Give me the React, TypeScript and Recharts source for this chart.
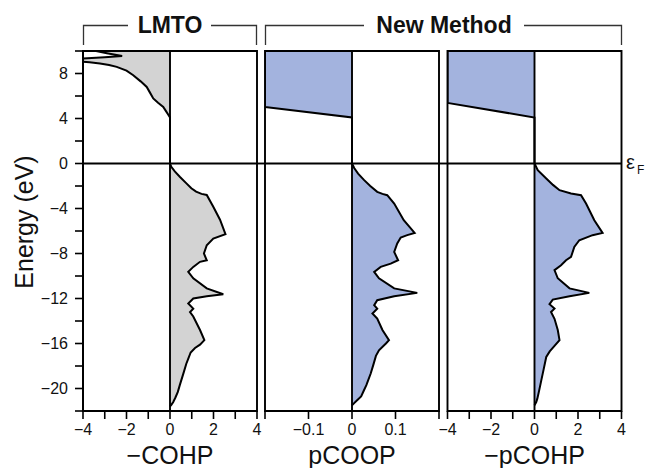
import React from 'react';
import { ComposedChart, Area, XAxis, YAxis, ReferenceLine, ReferenceArea, Label } from 'recharts';

const FONT = '"Liberation Sans", Arial, Helvetica, sans-serif';

// ---- data ----
const lmtoEnergy = [10, 9.8, 9.55, 9.45, 9.34, 9.25, 9.15, 9.1, 9.0, 8.89, 8.75, 8.59, 8.25, 7.85, 7.3, 6.8, 6.3, 5.78, 5.4, 5.03, 4.7, 4.4, 4.1,
  0, -0.3, -0.7, -1.2, -1.7, -2.2, -2.5, -2.7, -2.8, -3.85, -5.0, -6.28, -6.67, -7.26, -8.0, -8.6, -8.74, -9.19, -9.63, -10.2, -11.1, -11.62,
  -11.8, -12.0, -12.44, -12.9, -13.2, -13.6, -14.8, -15.7, -16.1, -16.4, -16.8, -17.3, -17.8, -18.7, -19.7, -20.3, -20.8, -21.2, -21.45, -21.6];
const lmtoCohp = [-3.4, -2.9, -2.2, -3.0, -4.0, -4.6, -4.4, -4.3, -3.7, -3.22, -2.8, -2.45, -2.0, -1.69, -1.35, -1.07, -0.92, -0.77, -0.55, -0.31, -0.2, -0.1, 0,
  0, 0.06, 0.22, 0.46, 0.72, 0.98, 1.2, 1.45, 1.69, 1.99, 2.3, 2.55, 1.99, 1.69, 1.56, 1.69, 1.38, 1.07, 0.84, 1.07, 1.69, 2.45,
  1.69, 1.07, 0.84, 1.07, 0.92, 1.07, 1.38, 1.58, 1.38, 1.15, 0.95, 0.85, 0.75, 0.61, 0.45, 0.36, 0.25, 0.15, 0.06, 0];

const pcoopEnergy = [10, 5.03, 4.09,
  0, -0.4, -0.9, -1.48, -2.0, -2.52, -2.7, -2.82, -3.56, -5.04, -6.17, -6.37, -6.58, -7.11, -7.86, -8.6, -8.9, -9.19, -9.63, -10.2,
  -11.1, -11.5, -11.8, -12.15, -12.6, -12.9, -13.33, -13.78, -14.8, -15.7, -16.0, -16.6, -17.1, -17.9, -18.67, -19.7, -20.2, -20.7, -21.0, -21.3, -21.5];
const pcoopValue = [-0.2, -0.2, 0,
  0, 0.005, 0.014, 0.028, 0.042, 0.058, 0.07, 0.081, 0.097, 0.119, 0.144, 0.127, 0.112, 0.104, 0.097, 0.106, 0.089, 0.066, 0.051, 0.062,
  0.097, 0.15, 0.097, 0.058, 0.051, 0.058, 0.047, 0.058, 0.07, 0.085, 0.078, 0.062, 0.055, 0.049, 0.043, 0.033, 0.027, 0.021, 0.013, 0.005, 0];

const pcohpEnergy = [10, 5.39, 4.09,
  0, -0.6, -1.33, -1.9, -2.37, -2.67, -2.82, -3.56, -5.04, -6.17, -6.37, -6.82, -7.41, -8.3, -8.6, -9.04, -9.48, -10.2,
  -11.1, -11.5, -11.8, -12.1, -12.5, -12.9, -13.2, -13.8, -14.8, -15.7, -16.15, -16.7, -17.2, -18.3, -19.3, -20.3, -20.9, -21.2, -21.5];
const pcohpValue = [-4, -4, 0,
  0, 0.15, 0.54, 0.85, 1.15, 1.68, 2.14, 2.37, 2.75, 3.13, 2.67, 2.06, 1.83, 1.68, 1.45, 1.22, 0.92, 1.07,
  1.61, 2.52, 1.61, 0.84, 0.69, 0.92, 0.76, 0.92, 1.07, 1.15, 0.95, 0.7, 0.54, 0.42, 0.31, 0.2, 0.13, 0.08, 0];

const energyTicks = [-22, -20, -18, -16, -14, -12, -10, -8, -6, -4, -2, 0, 2, 4, 6, 8, 10];
const cohpTicks = [-4, -3, -2, -1, 0, 1, 2, 3, 4];
const coopTicks = [-0.2, -0.1, 0, 0.1, 0.2];
const headerLabels = ['LMTO', 'New Method'];
const axisTitles = ['\u2212COHP', 'pCOOP', '\u2212pCOHP'];
const yTitle = 'Energy (eV)';

const toRows = (es: number[], vs: number[]) => es.map((e, i) => ({ e, v: vs[i] }));
const lmtoData = toRows(lmtoEnergy, lmtoCohp);
const pcoopData = toRows(pcoopEnergy, pcoopValue);
const pcohpData = toRows(pcohpEnergy, pcohpValue);

const fmt = (v: number) => (v < 0 ? '\u2212' + String(Math.abs(v)) : String(v));

type PanelProps = {
  left: number; width: number; mLeft: number; mRight: number; data: any[]; fill: string;
  xDomain: [number, number]; xTicks: number[]; showLabel: (v: number) => boolean; title: string; showY: boolean;
};

const LW = 1.9;

function Panel(p: PanelProps) {
  const tickStyle = { fill: '#111', fontSize: 16, fontFamily: FONT };
  return (
    <div style={{ position: 'absolute', left: p.left, top: 0 }}>
      <ComposedChart width={p.width} height={468} layout="vertical" data={p.data}
        margin={{ top: 51, right: p.mRight, bottom: 0, left: p.mLeft }}>
        <XAxis type="number" domain={p.xDomain} ticks={p.xTicks} interval={0} allowDataOverflow
          height={57} tickSize={8} tickMargin={5}
          axisLine={{ stroke: '#000', strokeWidth: LW }} tickLine={{ stroke: '#000', strokeWidth: 1.6 }}
          tick={tickStyle} tickFormatter={(v: number) => (p.showLabel(v) ? fmt(v) : '')}>
          <Label value={p.title} position="insideBottom" offset={4}
            style={{ fontSize: 25, fontFamily: FONT, fill: '#111' }} />
        </XAxis>
        <YAxis type="number" dataKey="e" domain={[-22, 10]} ticks={energyTicks} interval={0} reversed
          allowDataOverflow hide={!p.showY} width={p.showY ? 83 : 0} tickSize={8} tickMargin={7}
          axisLine={{ stroke: '#000', strokeWidth: LW }} tickLine={{ stroke: '#000', strokeWidth: 1.6 }}
          tick={tickStyle} tickFormatter={(v: number) => (v % 4 === 0 ? fmt(v) : '')}>
          {p.showY ? (
            <Label value={yTitle} angle={-90} position="center" dx={-17} dy={-9}
              style={{ fontSize: 25, fontFamily: FONT, fill: '#111', textAnchor: 'middle' }} />
          ) : null}
        </YAxis>
        <Area type="linear" dataKey="v" baseValue={0} fill={p.fill} fillOpacity={1} stroke="#000"
          strokeWidth={2} dot={false} activeDot={false} isAnimationActive={false} />
        <ReferenceLine x={0} stroke="#000" strokeWidth={LW} />
        <ReferenceLine y={0} stroke="#000" strokeWidth={LW} />
        <ReferenceArea x1={p.xDomain[0]} x2={p.xDomain[1]} y1={-22} y2={10} fill="none" fillOpacity={0}
          stroke="#000" strokeWidth={LW} />
      </ComposedChart>
    </div>
  );
}

export default function App() {
  const GRAY = '#d3d3d3';
  const BLUE = '#a3b3de';
  return (
    <div style={{ position: 'absolute', left: 0, top: 0, width: 646, height: 468, background: '#fff' }}>
      <Panel left={0} width={262} mLeft={0} mRight={5} data={lmtoData} fill={GRAY} xDomain={[-4, 4]}
        xTicks={cohpTicks} showLabel={(v) => v % 2 === 0} title={axisTitles[0]} showY />
      <Panel left={257} width={188} mLeft={8} mRight={6} data={pcoopData} fill={BLUE} xDomain={[-0.2, 0.2]}
        xTicks={coopTicks} showLabel={(v) => Math.abs(v) < 0.15} title={axisTitles[1]} showY={false} />
      <Panel left={439} width={207} mLeft={8.5} mRight={24.5} data={pcohpData} fill={BLUE} xDomain={[-4, 4]}
        xTicks={cohpTicks} showLabel={(v) => v % 2 === 0} title={axisTitles[2]} showY={false} />
      <svg width={646} height={468} style={{ position: 'absolute', left: 0, top: 0, pointerEvents: 'none' }}>
        <g stroke="#333" strokeWidth={1.3} fill="none">
          <path d="M83.5,45 V25.5 H128" />
          <path d="M211,25.5 H256.5 V45" />
          <path d="M265.5,45 V25.5 H364" />
          <path d="M524,25.5 H621.5 V45" />
        </g>
        <g stroke="#000" strokeWidth={LW}>
          <path d="M257,163.5 H265" />
          <path d="M439,163.5 H447.5" />
        </g>
        <g fontFamily={FONT} fontWeight="bold" fontSize={23} fill="#111" textAnchor="middle">
          <text x={170} y={33}>{headerLabels[0]}</text>
          <text x={444} y={33}>{headerLabels[1]}</text>
        </g>
        <text x={626} y={168.5} fontFamily={FONT} fontSize={20} fill="#111">ε
          <tspan x={637} y={173.5} fontSize={12}>F</tspan>
        </text>
      </svg>
    </div>
  );
}
